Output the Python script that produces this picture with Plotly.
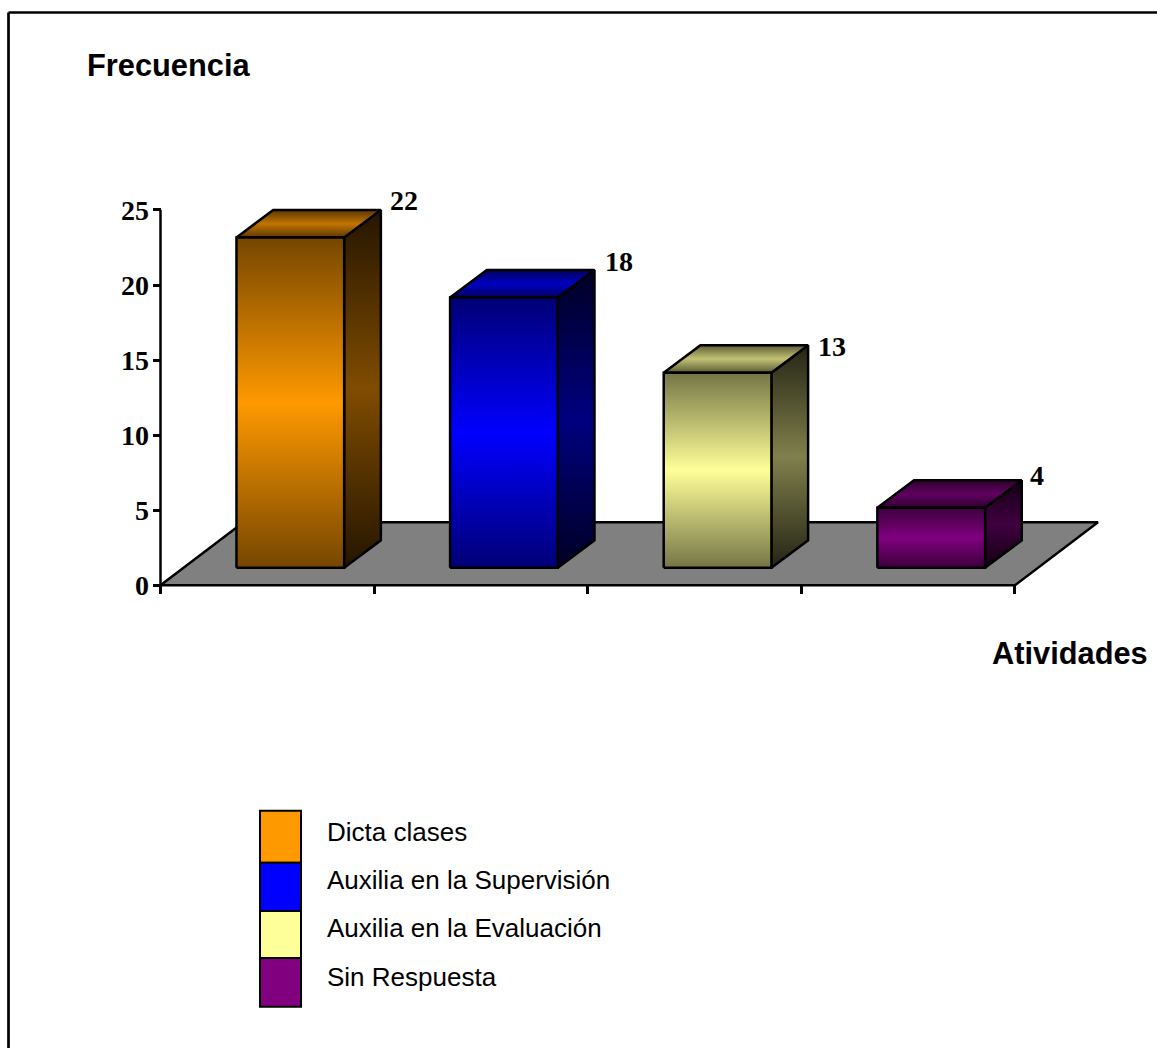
import plotly.graph_objects as go

# Survey results: how often each activity was reported
categories = ["Dicta clases", "Auxilia en la Supervisión", "Auxilia en la Evaluación", "Sin Respuesta"]
values = [22, 18, 13, 4]
y_ticks = [0, 5, 10, 15, 20, 25]
x_ticks = [0, 1, 2, 3, 4]
base_colors = ["#ff9900", "#0000ff", "#ffff99", "#800080"]

W, H = 1157, 1048
X0_PX, X4_PX = 160.5, 1015.0   # pixel positions of category ticks 0 and 4
Y0_PX, Y25_PX = 585.3, 210.0   # pixel positions of value ticks 0 and 25
CAT_PX = (X4_PX - X0_PX) / 4
VAL_PX = (Y0_PX - Y25_PX) / 25

# Oblique projection: depth moves a point right and up, in axis units
FLOOR_DX, FLOOR_DY = 83 / CAT_PX, 63 / VAL_PX
BAR_OFF_X, BAR_OFF_Y = 23 / CAT_PX, 17.5 / VAL_PX
BAR_DX, BAR_DY = 36.7 / CAT_PX, 27.5 / VAL_PX
BAR_W = 107.7 / CAT_PX

# Axis ranges leave room for the floor's depth and for stroke widths
X_RANGE = [-0.1, 4.6]
Y_RANGE = [-0.5, 26.0]


def shade(color, f):
    r, g, b = (int(color[i:i + 2], 16) for i in (1, 3, 5))
    return f"rgb({r * f:.0f},{g * f:.0f},{b * f:.0f})"


def band(color, edge, mid):
    return dict(type="vertical", colorscale=[
        [0, shade(color, edge)], [0.5, shade(color, mid)], [1, shade(color, edge)]])


def polygon(xs, ys, **fill):
    return go.Scatter(x=xs + xs[:1], y=ys + ys[:1], mode="lines", fill="toself",
                      line=dict(color="black", width=2.5),
                      hoverinfo="skip", showlegend=False, **fill)


fig = go.Figure()

# Floor of the chart
fig.add_trace(polygon([0, 4, 4 + FLOOR_DX, FLOOR_DX], [0, 0, FLOOR_DY, FLOOR_DY],
                      fillcolor="#808080"))

# Value axis line, stopping at the top tick
fig.add_trace(go.Scatter(x=[0, 0], y=[y_ticks[0], y_ticks[-1]], mode="lines",
                         line=dict(color="black", width=2.5),
                         hoverinfo="skip", showlegend=False))

# Each column: side face, top face, front face
for i, (v, color) in enumerate(zip(values, base_colors)):
    x0 = i + 0.5 - BAR_W / 2 + BAR_OFF_X
    x1 = x0 + BAR_W
    y0 = BAR_OFF_Y
    y1 = y0 + v
    fig.add_trace(polygon([x1, x1 + BAR_DX, x1 + BAR_DX, x1],
                          [y0, y0 + BAR_DY, y1 + BAR_DY, y1],
                          fillgradient=band(color, 0.14, 0.5)))
    fig.add_trace(polygon([x0, x1, x1 + BAR_DX, x0 + BAR_DX],
                          [y1, y1, y1 + BAR_DY, y1 + BAR_DY],
                          fillgradient=band(color, 0.36, 0.76)))
    fig.add_trace(polygon([x0, x1, x1, x0], [y0, y0, y1, y1],
                          fillgradient=band(color, 0.46, 1.0)))


def paper_x(px):
    return px / W


def paper_y(px):
    return 1 - px / H


annotations = []

# Value labels sit just beyond the back corner of each column
label_shifts = [(23, 10), (25, 9), (24, -1), (15, 5)]
for i, (v, (sx, sy)) in enumerate(zip(values, label_shifts)):
    annotations.append(dict(
        x=i + 0.5 + BAR_W / 2 + BAR_OFF_X + BAR_DX, y=BAR_OFF_Y + v + BAR_DY,
        xref="x", yref="y", text=f"<b>{v}</b>", showarrow=False,
        xshift=sx, yshift=sy, xanchor="center", yanchor="middle",
        font=dict(family="Liberation Serif", size=28, color="black")))

# Axis captions
for text, px, py, anchor in [("Frecuencia", 85, 66, "left"), ("Atividades", 1150, 653, "right")]:
    annotations.append(dict(
        x=paper_x(px), y=paper_y(py), xref="paper", yref="paper",
        text=f"<b>{text}</b>", showarrow=False, xanchor=anchor, yanchor="middle",
        font=dict(family="Liberation Sans", size=30.8, color="black")))

# Hand-built key: contiguous swatches with a caption beside each
swatch_edges = [810.7, 862.7, 911, 958, 1006.7]
caption_rows = [832, 880, 928, 977]
shapes = []
for i, (name, color) in enumerate(zip(categories, base_colors)):
    shapes.append(dict(type="rect", xref="paper", yref="paper",
                       x0=paper_x(260), x1=paper_x(301),
                       y0=paper_y(swatch_edges[i + 1]), y1=paper_y(swatch_edges[i]),
                       fillcolor=color, line=dict(color="black", width=2)))
    annotations.append(dict(
        x=paper_x(325), y=paper_y(caption_rows[i]), xref="paper", yref="paper",
        text=name, showarrow=False, xanchor="left", yanchor="middle",
        font=dict(family="Liberation Sans", size=26, color="black")))

# Outer frame
shapes.append(dict(type="line", xref="paper", yref="paper",
                   x0=paper_x(8.5), x1=paper_x(8.5), y0=0, y1=paper_y(12.5),
                   line=dict(color="black", width=2.7)))
shapes.append(dict(type="line", xref="paper", yref="paper",
                   x0=paper_x(8.5), x1=1, y0=paper_y(12.5), y1=paper_y(12.5),
                   line=dict(color="black", width=2.7)))


def x_domain():
    scale = CAT_PX
    return [(X0_PX + X_RANGE[0] * scale) / W, (X0_PX + X_RANGE[1] * scale) / W]


def y_domain():
    scale = VAL_PX
    return [1 - (Y0_PX - Y_RANGE[0] * scale) / H, 1 - (Y0_PX - Y_RANGE[1] * scale) / H]


fig.update_layout(
    width=W, height=H, margin=dict(l=0, r=0, t=0, b=0, autoexpand=False),
    paper_bgcolor="white", plot_bgcolor="rgba(0,0,0,0)",
    showlegend=False, annotations=annotations, shapes=shapes,
    xaxis=dict(domain=x_domain(), range=X_RANGE, tickmode="array", automargin=False,
               tickvals=x_ticks, showticklabels=False, showgrid=False, zeroline=False,
               showline=False),
    yaxis=dict(domain=y_domain(), range=Y_RANGE, tickmode="array", automargin=False,
               tickvals=y_ticks, ticktext=[f"<b>{t}</b>" for t in y_ticks],
               showgrid=False, zeroline=False, showline=False),
)

# Ticks and tick labels are anchored to the zero lines of the two axes
fig.update_xaxes(ticks="outside", ticklen=8, tickwidth=2.5, tickcolor="black",
                 anchor="free", position=1 - Y0_PX / H)
fig.update_yaxes(ticks="outside", ticklen=8, tickwidth=2.5, tickcolor="black",
                 anchor="free", position=X0_PX / W, ticklabelstandoff=-2,
                 tickfont=dict(family="Liberation Serif", size=28, color="black"))

fig.write_html("out.html", config=dict(displayModeBar=False))
